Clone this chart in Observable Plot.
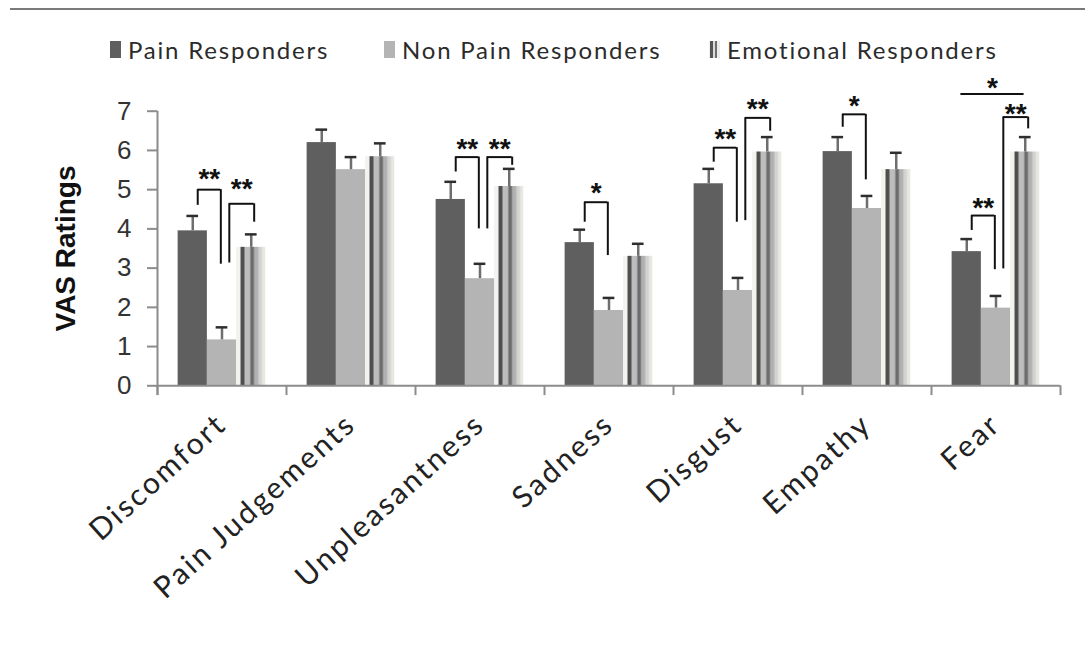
<!DOCTYPE html>
<html>
<head>
<meta charset="utf-8">
<script src="https://cdn.jsdelivr.net/npm/d3@7"></script>
<script src="https://cdn.jsdelivr.net/npm/@observablehq/plot@0.6"></script>
<style>
  html, body { margin: 0; padding: 0; background: #fff; }
  body { width: 1085px; height: 657px; overflow: hidden; position: relative; }
  #topline { position: absolute; left: 10px; top: 8px; width: 1075px; height: 2px; background: #7a7a7a; }
  #legend { position: relative; height: 66px; }
  .item { position: absolute; top: 36px; height: 26px; display: flex; align-items: center; }
  .swatch { width: 11px; height: 17px; margin-right: 7px; }
  .label { font-family: Lato, "Open Sans", sans-serif; font-size: 24px; letter-spacing: 1.8px; color: #2b2b2b; white-space: nowrap; }
  #chart svg { display: block; }
  g[aria-label="y-axis label"] text { font-weight: bold; font-size: 28px; font-family: "Liberation Sans", Arial, sans-serif; fill: #111; }
  g[aria-label="fx-axis tick label"] text { letter-spacing: 2.5px; }
</style>
</head>
<body>
<div id="topline"></div>
<div id="legend"></div>
<div id="chart"></div>
<script>
// ---- data ----
const categories = ["Discomfort", "Pain Judgements", "Unpleasantness", "Sadness", "Disgust", "Empathy", "Fear"];
const series = ["Pain Responders", "Non Pain Responders", "Emotional Responders"];
const painMeans    = [3.95, 6.20, 4.75, 3.65, 5.15, 5.97, 3.42];
const painErr      = [0.38, 0.33, 0.45, 0.33, 0.38, 0.37, 0.32];
const nonPainMeans = [1.17, 5.51, 2.73, 1.92, 2.43, 4.52, 1.98];
const nonPainErr   = [0.32, 0.32, 0.38, 0.32, 0.32, 0.32, 0.31];
const emoMeans     = [3.53, 5.84, 5.08, 3.30, 5.96, 5.51, 5.96];
const emoErr       = [0.33, 0.34, 0.45, 0.32, 0.38, 0.43, 0.38];
const yTicks = [0, 1, 2, 3, 4, 5, 6, 7];

// significance brackets (series index from/to, y levels in rating units)
const bracketCategory   = ["Discomfort", "Discomfort", "Unpleasantness", "Unpleasantness", "Sadness", "Disgust", "Disgust", "Empathy", "Fear", "Fear", "Fear"];
const bracketFrom       = [0, 1, 0, 1, 0, 0, 1, 0, 0, 1, 0];
const bracketTo         = [1, 2, 1, 2, 1, 1, 2, 1, 1, 2, 2];
const bracketTop        = [5.00, 4.64, 5.83, 5.83, 4.68, 6.07, 6.83, 6.92, 4.34, 6.85, 7.44];
const bracketFromBottom = [4.60, 3.13, 5.45, 4.00, 4.17, 5.70, 4.21, 6.59, 3.96, 2.98, null];
const bracketToBottom   = [3.10, 4.17, 4.00, 5.62, 3.32, 4.17, 6.49, 5.25, 2.96, 6.55, null];
const bracketLabel      = ["**", "**", "**", "**", "*", "**", "**", "*", "**", "**", "*"];
const bracketLabelLevel = [5.45, 5.19, 6.21, 6.21, 5.10, 6.46, 7.23, 7.32, 4.72, 7.10, 7.76];

// ---- tables built from the arrays ----
const meansBySeries = [painMeans, nonPainMeans, emoMeans];
const errBySeries = [painErr, nonPainErr, emoErr];
const rows = categories.flatMap((c, i) => series.map((s, j) => ({
  category: c, series: s, idx: j, value: meansBySeries[j][i], err: errBySeries[j][i]
})));
const catRows = categories.map(c => ({category: c}));

const pad = 0.705; // outer padding inside each category, in bar widths
const brackets = bracketCategory.map((c, k) => {
  const legs = bracketFromBottom[k] != null;
  const fromShift = legs ? 0.17 + (bracketFrom[k] === 1 ? 0.08 : 0) : -0.2;
  const toShift = legs ? -0.04 + (bracketTo[k] === 2 ? 0.14 : 0) : -0.04;
  const xa = bracketFrom[k] + 0.5 + fromShift;
  const xb = bracketTo[k] + 0.5 + toShift;
  return {category: c, xa, xb, xm: (xa + xb) / 2, top: bracketTop[k], label: bracketLabel[k],
          labelLevel: bracketLabelLevel[k],
          fromBottom: bracketFromBottom[k], toBottom: bracketToBottom[k], legs};
});
const legRows = brackets.filter(b => b.legs).flatMap(b => [
  {category: b.category, x: b.xa, y1: b.fromBottom, y2: b.top},
  {category: b.category, x: b.xb, y1: b.toBottom, y2: b.top}
]);

// ---- legend ----
const legendItems = [
  {name: series[0], left: 110, bg: "#5f5f5f"},
  {name: series[1], left: 384, bg: "#b4b4b4"},
  {name: series[2], left: 709, bg: "linear-gradient(to right, #f0f0f0 0 12%, #555 12% 32%, #dadada 32% 55%, #6e6e6e 55% 75%, #ececec 75% 100%)"}
];
const legend = document.getElementById("legend");
for (const it of legendItems) {
  const d = document.createElement("div");
  d.className = "item";
  d.style.left = it.left + "px";
  const sw = document.createElement("div");
  sw.className = "swatch";
  sw.style.background = it.bg;
  const lb = document.createElement("span");
  lb.className = "label";
  lb.textContent = it.name;
  d.appendChild(sw); d.appendChild(lb);
  legend.appendChild(d);
}

// ---- chart ----
const axisGray = "#8c8c8c";
const chart = Plot.plot({
  width: 1085,
  height: 591,
  marginTop: 44.7,
  marginBottom: 271.7,
  marginLeft: 156,
  marginRight: 24,
  style: {background: "#fff", overflow: "visible"},
  fx: {domain: categories, padding: 0},
  x: {domain: [-pad, 3 + pad], axis: null},
  y: {domain: [0, 7]},
  color: {domain: series, range: ["#5f5f5f", "#b4b4b4", "url(#emoPattern)"]},
  marks: [
    Plot.rectY(rows, {fx: "category", x1: "idx", x2: d => d.idx + 1, y1: () => 0, y2: "value", fill: "series"}),
    // axes lines and category boundary ticks
    Plot.ruleY(catRows, {fx: "category", y: () => 0, stroke: axisGray, strokeWidth: 2}),
    Plot.ruleX([categories[0]], {fx: d => d, x: () => -pad, y1: () => -0.25, y2: () => 7, stroke: axisGray, strokeWidth: 2}),
    Plot.ruleX(catRows, {fx: "category", x: () => -pad, y1: () => 0, y2: () => -0.25, stroke: axisGray, strokeWidth: 2}),
    Plot.ruleX([categories[categories.length - 1]], {fx: d => d, x: () => 3 + pad, y1: () => 0, y2: () => -0.25, stroke: axisGray, strokeWidth: 2}),
    // error bars
    Plot.ruleX(rows, {fx: "category", x: d => d.idx + 0.5, y1: "value", y2: d => d.value + d.err, stroke: "#6e6e6e", strokeWidth: 2.5}),
    Plot.ruleY(rows, {fx: "category", y: d => d.value + d.err, x1: d => d.idx + 0.3, x2: d => d.idx + 0.7, stroke: "#2e2e2e", strokeWidth: 2.5}),
    // significance brackets
    Plot.ruleX(legRows, {fx: "category", x: "x", y1: "y1", y2: "y2", stroke: "#111", strokeWidth: 2}),
    Plot.ruleY(brackets, {fx: "category", y: "top", x1: "xa", x2: "xb", stroke: "#111", strokeWidth: 2}),
    Plot.text(brackets, {fx: "category", x: "xm", y: "labelLevel", text: "label", dy: 7,
      fontSize: 28, fontWeight: "bold", fontFamily: "Liberation Sans, Arial, sans-serif", fill: "#111"}),
    // axes
    Plot.axisY({ticks: yTicks, tickFormat: "d", tickSize: 10, tickPadding: 16, fontSize: 26, fontFamily: "Liberation Sans, Arial, sans-serif",
      stroke: axisGray, strokeWidth: 2, fill: "#333", label: "VAS Ratings", labelAnchor: "center", labelArrow: "none", labelOffset: 102}),
    Plot.axisFx({anchor: "bottom", tickSize: 0, tickPadding: 34, tickRotate: -42, fontSize: 30, fontFamily: "Lato, sans-serif",
      fill: "#222", label: null})
  ]
});

// striped fill for the emotional responders' bars
const svg = d3.select(chart);
const defs = svg.insert("defs", ":first-child");
const pat = defs.append("pattern")
  .attr("id", "emoPattern")
  .attr("patternUnits", "objectBoundingBox")
  .attr("patternContentUnits", "objectBoundingBox")
  .attr("width", 1).attr("height", 1);
const stripes = [
  [0.00, 0.15, "#f2f2ee"], [0.15, 0.29, "#4e4e4e"], [0.29, 0.48, "#bdbdbd"],
  [0.48, 0.62, "#6c6c6c"], [0.62, 0.76, "#b0b0b0"], [0.76, 0.89, "#d2d2d2"], [0.89, 1.00, "#e8e8e0"]
];
for (const [x0, x1, c] of stripes) {
  pat.append("rect").attr("x", x0).attr("y", 0).attr("width", x1 - x0 + 0.005).attr("height", 1).attr("fill", c);
}

document.getElementById("chart").appendChild(chart);
</script>
</body>
</html>
